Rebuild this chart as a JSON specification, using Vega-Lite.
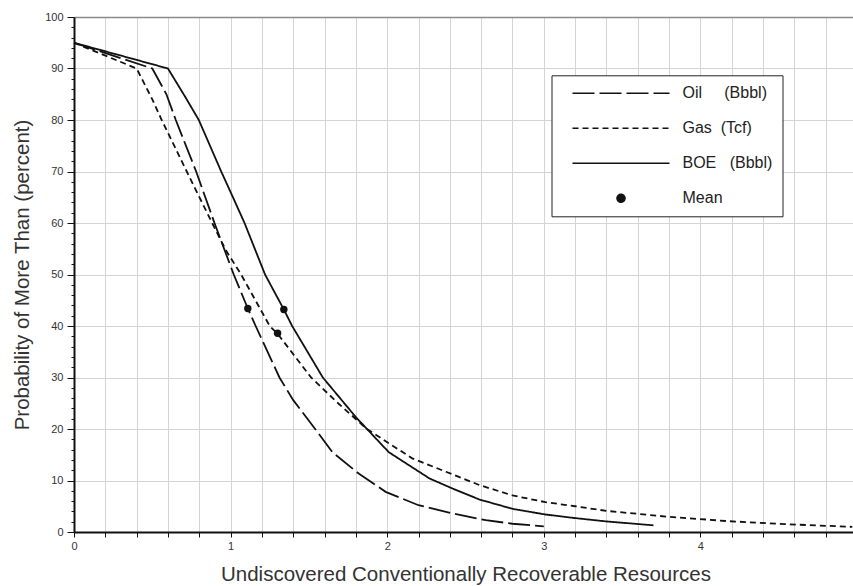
{
  "$schema": "https://vega.github.io/schema/vega-lite/v6.json",
  "width": 783,
  "height": 515,
  "autosize": {"type": "none"},
  "padding": {"left": 74, "top": 17, "right": 0, "bottom": 54},
  "background": "white",
  "config": {"view": {"stroke": null}, "font": "Liberation Sans"},
  "datasets": {
    "curves": [
      {"series": "Oil", "x": 0, "y": 95}, {"series": "Oil", "x": 0.5, "y": 90}, {"series": "Oil", "x": 0.59, "y": 85},
      {"series": "Oil", "x": 0.65, "y": 80}, {"series": "Oil", "x": 0.78, "y": 70}, {"series": "Oil", "x": 0.897, "y": 60},
      {"series": "Oil", "x": 1.02, "y": 50}, {"series": "Oil", "x": 1.11, "y": 43.4}, {"series": "Oil", "x": 1.16, "y": 40},
      {"series": "Oil", "x": 1.312, "y": 30}, {"series": "Oil", "x": 1.4, "y": 25.6}, {"series": "Oil", "x": 1.54, "y": 20},
      {"series": "Oil", "x": 1.65, "y": 15.5}, {"series": "Oil", "x": 1.82, "y": 11.3}, {"series": "Oil", "x": 1.99, "y": 7.8},
      {"series": "Oil", "x": 2.2, "y": 5.2}, {"series": "Oil", "x": 2.42, "y": 3.6}, {"series": "Oil", "x": 2.63, "y": 2.3},
      {"series": "Oil", "x": 2.8, "y": 1.6}, {"series": "Oil", "x": 3.0, "y": 1.1},
      {"series": "Gas", "x": 0, "y": 95}, {"series": "Gas", "x": 0.4, "y": 90}, {"series": "Gas", "x": 0.5, "y": 84},
      {"series": "Gas", "x": 0.56, "y": 80}, {"series": "Gas", "x": 0.6, "y": 77.5}, {"series": "Gas", "x": 0.72, "y": 70},
      {"series": "Gas", "x": 0.882, "y": 60}, {"series": "Gas", "x": 0.97, "y": 54.7}, {"series": "Gas", "x": 1.067, "y": 50},
      {"series": "Gas", "x": 1.25, "y": 40}, {"series": "Gas", "x": 1.3, "y": 38.5}, {"series": "Gas", "x": 1.514, "y": 30},
      {"series": "Gas", "x": 1.69, "y": 24.9}, {"series": "Gas", "x": 1.87, "y": 20}, {"series": "Gas", "x": 2.16, "y": 14.3},
      {"series": "Gas", "x": 2.375, "y": 11.7}, {"series": "Gas", "x": 2.59, "y": 9.1}, {"series": "Gas", "x": 2.8, "y": 7.1},
      {"series": "Gas", "x": 3.01, "y": 5.8}, {"series": "Gas", "x": 3.2, "y": 5.0}, {"series": "Gas", "x": 3.4, "y": 4.1},
      {"series": "Gas", "x": 3.78, "y": 3.0}, {"series": "Gas", "x": 4.18, "y": 2.1}, {"series": "Gas", "x": 4.56, "y": 1.5},
      {"series": "Gas", "x": 4.97, "y": 1.0},
      {"series": "BOE", "x": 0, "y": 95}, {"series": "BOE", "x": 0.6, "y": 90}, {"series": "BOE", "x": 0.71, "y": 84.5},
      {"series": "BOE", "x": 0.797, "y": 80}, {"series": "BOE", "x": 0.94, "y": 70}, {"series": "BOE", "x": 1.0, "y": 66},
      {"series": "BOE", "x": 1.089, "y": 60}, {"series": "BOE", "x": 1.22, "y": 50}, {"series": "BOE", "x": 1.34, "y": 43.2},
      {"series": "BOE", "x": 1.393, "y": 40}, {"series": "BOE", "x": 1.589, "y": 30}, {"series": "BOE", "x": 1.8, "y": 22.3},
      {"series": "BOE", "x": 2.01, "y": 15.5}, {"series": "BOE", "x": 2.27, "y": 10.4}, {"series": "BOE", "x": 2.42, "y": 8.4},
      {"series": "BOE", "x": 2.59, "y": 6.3}, {"series": "BOE", "x": 2.8, "y": 4.5}, {"series": "BOE", "x": 3.01, "y": 3.4},
      {"series": "BOE", "x": 3.2, "y": 2.7}, {"series": "BOE", "x": 3.4, "y": 2.05}, {"series": "BOE", "x": 3.7, "y": 1.3}
    ],
    "means": [
      {"series": "Oil", "x": 1.11, "y": 43.4},
      {"series": "Gas", "x": 1.3, "y": 38.6},
      {"series": "BOE", "x": 1.34, "y": 43.2}
    ]
  },
  "layer": [
    {
      "data": {"name": "curves"},
      "mark": {"type": "line", "strokeWidth": 1.8, "color": "#111"},
      "encoding": {
        "x": {
          "field": "x", "type": "quantitative",
          "scale": {"domain": [0, 5], "nice": false, "zero": false},
          "axis": {
            "title": "Undiscovered Conventionally Recoverable Resources",
            "values": [0, 0.2, 0.4, 0.6, 0.8, 1, 1.2, 1.4, 1.6, 1.8, 2, 2.2, 2.4, 2.6, 2.8, 3, 3.2, 3.4, 3.6, 3.8, 4, 4.2, 4.4, 4.6, 4.8, 5],
            "tickCount": 1000,
            "labelExpr": "datum.value % 1 === 0 ? format(datum.value, 'd') : ''",
            "labelOverlap": false,
            "labelFlush": false,
            "labelBound": false,
            "labelDx": -3,
            "labelFont": "Liberation Sans",
            "labelFontSize": 11,
            "labelColor": "#333",
            "labelPadding": 3,
            "tickSize": 5,
            "tickColor": "#111",
            "tickWidth": 1,
            "domainColor": "#111",
            "domainWidth": 2,
            "gridColor": "#d4d4d4",
            "gridWidth": 1,
            "titleFont": "Liberation Sans",
            "titleFontSize": 20.5,
            "titleFontWeight": "normal",
            "titleColor": "#333",
            "titlePadding": 13
          }
        },
        "y": {
          "field": "y", "type": "quantitative",
          "scale": {"domain": [0, 100], "nice": false},
          "axis": {
            "title": "Probability of More Than (percent)",
            "values": [0, 2, 4, 6, 8, 10, 12, 14, 16, 18, 20, 22, 24, 26, 28, 30, 32, 34, 36, 38, 40, 42, 44, 46, 48, 50, 52, 54, 56, 58, 60, 62, 64, 66, 68, 70, 72, 74, 76, 78, 80, 82, 84, 86, 88, 90, 92, 94, 96, 98, 100],
            "tickCount": 1000,
            "labelExpr": "datum.value % 10 === 0 ? format(datum.value, 'd') : ''",
            "labelOverlap": false,
            "labelFont": "Liberation Sans",
            "labelFontSize": 11,
            "labelColor": "#333",
            "labelPadding": 4,
            "tickSize": {"condition": {"test": "datum.value % 10 === 0", "value": 7}, "value": 3},
            "gridOpacity": {"condition": {"test": "datum.value % 10 === 0", "value": 1}, "value": 0},
            "gridColor": {"condition": {"test": "datum.value === 100", "value": "#8a8a8a"}, "value": "#d4d4d4"},
            "gridWidth": {"condition": {"test": "datum.value === 100", "value": 1.5}, "value": 1},
            "tickColor": "#111",
            "tickWidth": 1,
            "domainColor": "#111",
            "domainWidth": 2,
            "titleFont": "Liberation Sans",
            "titleFontSize": 20.5,
            "titleFontWeight": "normal",
            "titleColor": "#333",
            "titlePadding": 12
          }
        },
        "strokeDash": {
          "field": "series", "type": "nominal",
          "scale": {"domain": ["Oil", "Gas", "BOE", "Mean"], "range": [[22, 5], [6, 4], [1, 0], [1, 0]]},
          "legend": {
            "title": null,
            "orient": "none",
            "legendX": 477.5,
            "legendY": 58.3,
            "padding": 10,
            "strokeColor": "#222",
            "fillColor": "white",
            "symbolType": "stroke",
            "symbolSize": 9409,
            "symbolStrokeWidth": 1.5,
            "symbolStrokeColor": "#111",
            "symbolOffset": 10,
            "labelOffset": 12,
            "labelFont": "Liberation Sans",
            "labelFontSize": 16,
            "labelColor": "#222",
            "rowPadding": 19,
            "clipHeight": 16,
            "labelExpr": "datum.value === 'Oil' ? 'Oil\u00a0\u00a0\u00a0\u00a0\u00a0(Bbbl)' : datum.value === 'Gas' ? 'Gas\u00a0\u00a0(Tcf)' : datum.value === 'BOE' ? 'BOE\u00a0\u00a0\u00a0(Bbbl)' : 'Mean'",
            "encode": {
              "symbols": {
                "update": {
                  "shape": [
                    {"test": "datum.value === 'Mean'", "value": "M0.0825,0A0.0825,0.0825,0,1,1,-0.0825,0A0.0825,0.0825,0,1,1,0.0825,0Z"},
                    {"value": "stroke"}
                  ],
                  "fill": [
                    {"test": "datum.value === 'Mean'", "value": "#111"},
                    {"value": "transparent"}
                  ],
                  "stroke": {"value": "#111"},
                  "opacity": {"value": 1}
                }
              }
            }
          }
        }
      }
    },
    {
      "data": {"name": "means"},
      "mark": {"type": "point", "filled": true, "size": 55, "color": "#111", "opacity": 1},
      "encoding": {
        "x": {"field": "x", "type": "quantitative"},
        "y": {"field": "y", "type": "quantitative"}
      }
    }
  ]
}
